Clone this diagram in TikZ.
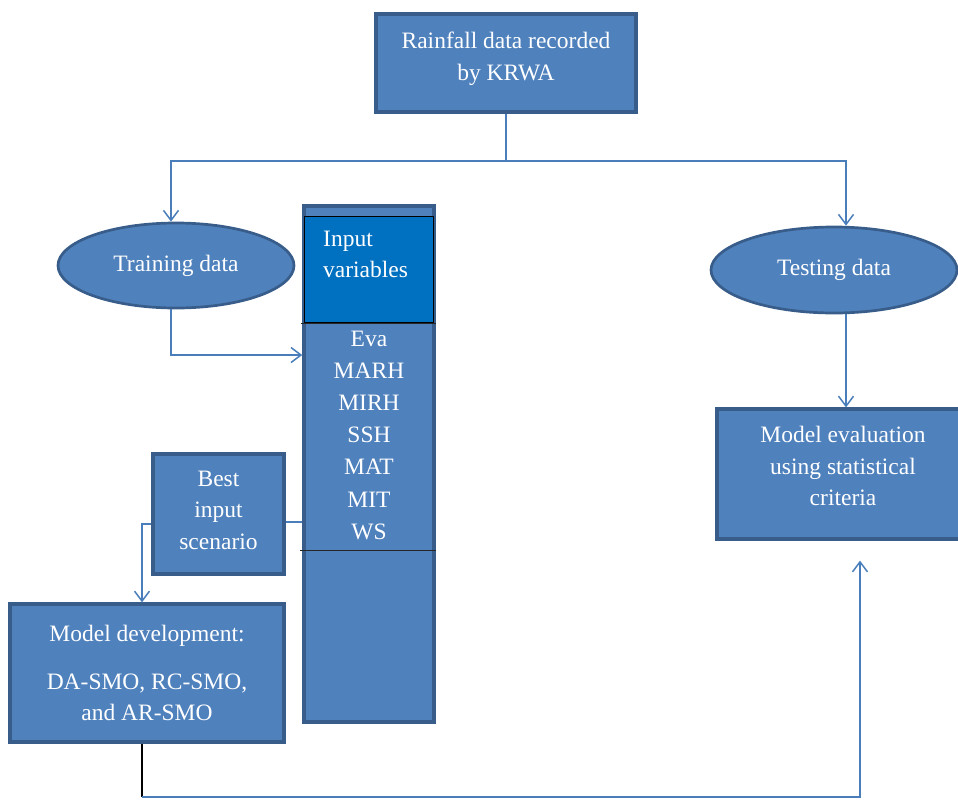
\documentclass[tikz,border=0pt]{standalone}
\usepackage{fontspec}
\setmainfont{Liberation Serif}
\usetikzlibrary{arrows.meta,shapes.geometric}
\definecolor{boxfill}{HTML}{4F81BD}
\definecolor{boxdraw}{HTML}{385D8A}
\definecolor{linec}{HTML}{4A7EBB}
\definecolor{inputfill}{HTML}{0070C0}
\begin{document}
\begin{tikzpicture}[x=1pt,y=-1pt,
  every node/.style={font=\fontsize{23.5}{31.5}\selectfont, text=white, inner sep=0pt},
  box/.style={draw=boxdraw, fill=boxfill, line width=3.2pt, align=center},
  oval/.style={ellipse, draw=boxdraw, fill=boxfill, line width=2.7pt},
  conn/.style={draw=linec, line width=1.5pt},
  arr/.style={conn, -{Straight Barb[length=10pt,width=15pt]}},
  sep/.style={draw=black!85, line width=1pt}
]
\useasboundingbox (0,0) rectangle (958,801);

\node[box, minimum width=260pt, minimum height=98pt, text depth=14pt] (rain) at (506,63) {Rainfall data recorded\\by KRWA};
\node[oval, minimum width=236pt, minimum height=85pt] (train) at (176,265.5) {Training data};
\node[oval, minimum width=246pt, minimum height=86pt] (test) at (834,270) {Testing data};

\node[draw=boxdraw, fill=boxfill, line width=3.5pt, minimum width=130pt, minimum height=516pt] (col) at (369,464) {};
\node[draw=black, fill=inputfill, line width=1pt, minimum width=129pt, minimum height=106pt] (inp) at (368.5,269) {};
\node[anchor=north west, align=left, font=\fontsize{23.5}{30.6}\selectfont] (invars) at (323,231) {Input\\variables};
\draw[sep] (301,323) -- (436,323);
\draw[sep] (300,550) -- (436,550);
\node[anchor=north, align=center, font=\fontsize{23.5}{32.1}\selectfont] (vars) at (369,331) {Eva\\MARH\\MIRH\\SSH\\MAT\\MIT\\WS};

\node[box, minimum width=131pt, minimum height=120pt, text depth=8pt] (best) at (218.5,514) {Best\\input\\scenario};
\node[box, minimum width=274pt, minimum height=138pt] (model) at (147,673) {Model development:\\[16.7pt]DA-SMO, RC-SMO,\\and AR-SMO};
\node[box, minimum width=252pt, minimum height=130pt, text depth=16pt] (eval) at (843,474) {Model evaluation\\using statistical\\criteria};

\coordinate (split) at (rain.south |- 0,161);
\draw[conn] (rain.south) -- (split);
\draw[arr] (split) -| ([xshift=-5pt]train.north);
\draw[arr] (split) -| ([xshift=12pt]test.north);
\draw[arr] ([xshift=-5pt]train.south) |- (col.west |- 0,355);
\draw[conn] (col.west |- 0,522) -- (best.east |- 0,522);
\draw[arr] (best.west |- 0,524) -| ([xshift=-5pt]model.north);
\coordinate (bend) at (142,797);
\draw[black, line width=1.5pt] ([xshift=-5pt]model.south) -- (bend);
\coordinate (evalin) at ([xshift=17pt,yshift=-20pt]eval.south);
\draw[arr] (bend) -| (evalin);
\draw[arr] ([xshift=12pt]test.south) -- ([xshift=3pt]eval.north);
\end{tikzpicture}
\end{document}
